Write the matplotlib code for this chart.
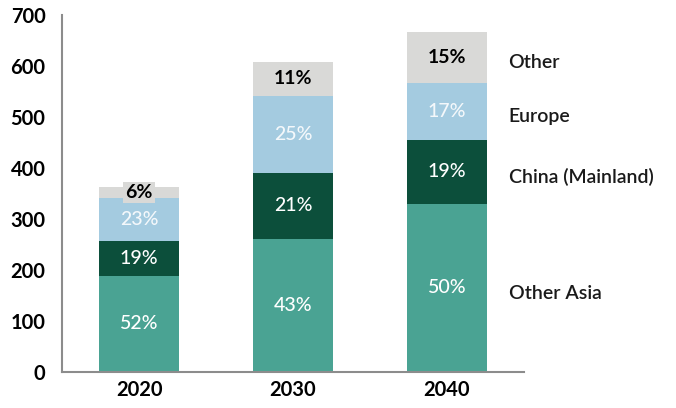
import numpy as np
import matplotlib.pyplot as plt

plt.rcParams['font.family'] = ['Lato', 'DejaVu Sans']

years = ['2020', '2030', '2040']
totals = [363, 609, 660]  # total por año

# participación (%) de cada región
regions = ['Other Asia', 'China (Mainland)', 'Europe', 'Other']
other_asia = [52, 43, 50]
china = [19, 21, 19]
europe = [23, 25, 17]
other = [6, 11, 15]

colors = ['#4aa393', '#0c4f3b', '#a4cbe0', '#d9d9d7']
text_colors = ['white', 'white', '#f4f8fb', 'black']
text_weights = ['medium', 'medium', 'medium', 'bold']

shares = np.array([other_asia, china, europe, other], dtype=float)
values = shares / 100.0 * np.array(totals)

fig, ax = plt.subplots(figsize=(6.76, 4.08), dpi=100)
fig.subplots_adjust(left=0.092, right=0.775, bottom=0.088, top=0.963)

x = np.arange(len(years))
bottom = np.zeros(len(years))
for i, reg in enumerate(regions):
    ax.bar(x, values[i], width=0.52, bottom=bottom, color=colors[i])
    mids = bottom + values[i] / 2
    for j in range(len(years)):
        box = None
        if i == 3:
            box = dict(facecolor=colors[i], edgecolor='none', pad=1.5)
        ax.text(x[j], mids[j], f"{int(shares[i][j])}%", ha='center', va='center',
                color=text_colors[i], fontsize=14, fontweight=text_weights[i], bbox=box)
    # etiqueta de la serie al lado de la última barra
    ax.text(2.40, mids[-1] - 10, reg, ha='left', va='center', fontsize=14,
            fontweight='semibold', color='#1a1a1a', clip_on=False)
    bottom += values[i]

ax.set_xlim(-0.5, 2.5)
ax.set_ylim(0, 700)
ax.set_yticks(np.arange(0, 701, 100))
ax.set_xticks(x)
ax.set_xticklabels(years)
ax.tick_params(length=0, labelsize=14.5, pad=6)
for lab in ax.get_xticklabels() + ax.get_yticklabels():
    lab.set_fontweight('bold')
ax.tick_params(axis='y', pad=12)
for s in ['top', 'right']:
    ax.spines[s].set_visible(False)
for s in ['left', 'bottom']:
    ax.spines[s].set_color('#8c8c8c')
    ax.spines[s].set_linewidth(1.5)

plt.savefig('out.png', dpi=100)
